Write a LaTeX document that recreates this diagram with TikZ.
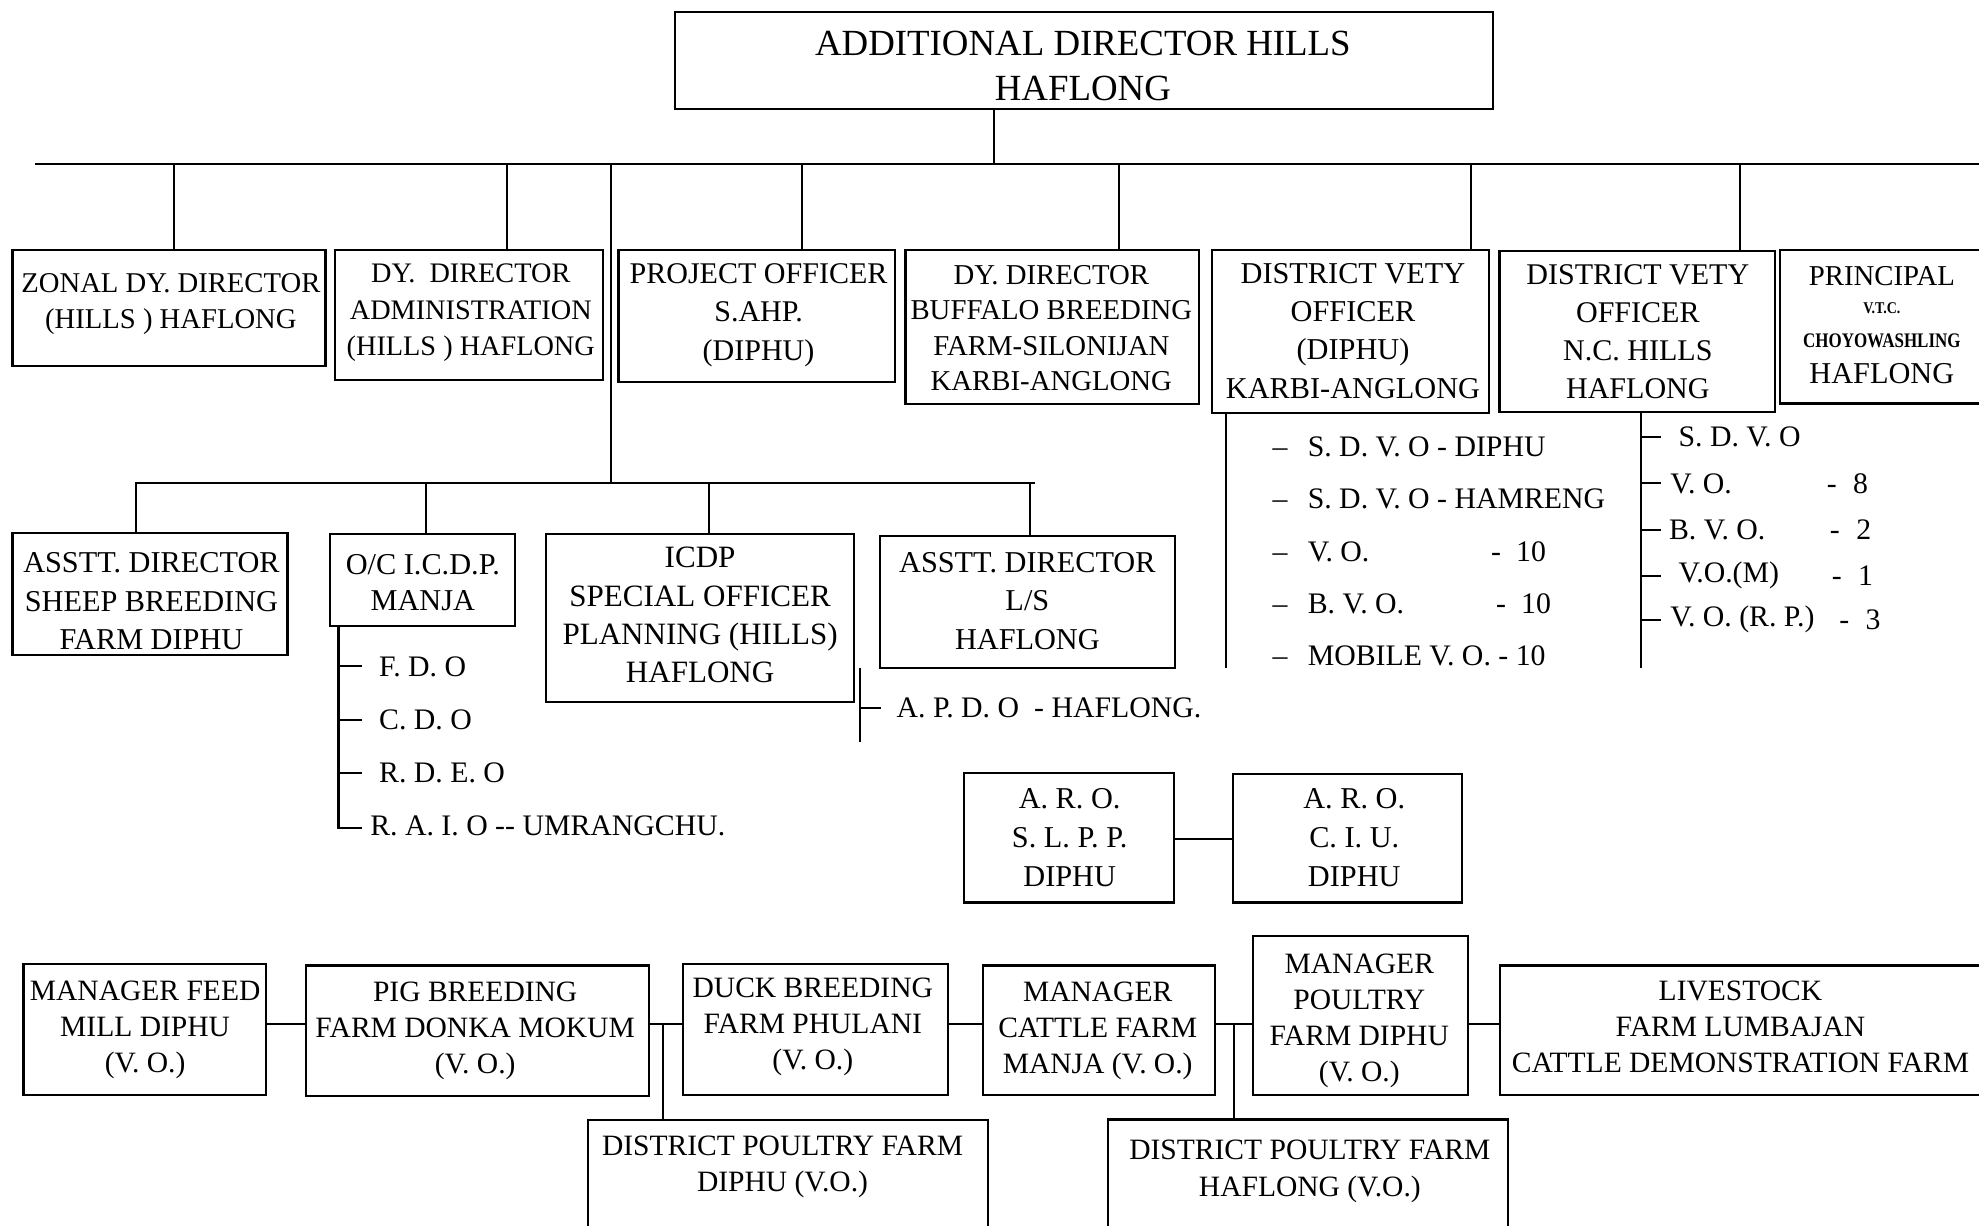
\documentclass[tikz,border=0pt]{standalone}
\usepackage{fontspec}
\setmainfont{Liberation Serif}
\usepackage{graphicx}
\newcommand\fbotrow{\fontsize{11.7}{14.2}\selectfont}
\newcommand\orgbox[9]{%
  \pgfmathsetmacro\obW{(#4-#2)*0.5}%
  \pgfmathsetmacro\obH{(#5-#3)*0.5}%
  \node[obox,minimum width=\obW pt,minimum height=\obH pt] (#1) at ({(#2+#4)/2},{(#3+#5)/2}) {};
  \node[otext,#8] (#1-t) at (#6,#7) {#9};}
\begin{document}
\begin{tikzpicture}[x=0.5pt,y=-0.5pt,
  obox/.style={draw,line width=0.9pt,inner sep=0pt,rectangle},
  otext/.style={inner sep=0pt,align=center},
  ln/.style={line width=0.8pt},
  item/.style={inner sep=0pt,anchor=west,font=\fontsize{11.8}{14}\selectfont}]
\useasboundingbox (0,0) rectangle (1568,971);

% ---------- boxes ----------
\orgbox{top}{535}{9.5}{1183}{86.5}{858}{52.2}{font=\fontsize{14.6}{17.8}\selectfont}{ADDITIONAL DIRECTOR HILLS\\HAFLONG}

\orgbox{zonal}{10}{198}{258}{290}{135.4}{241}{font=\fontsize{11.35}{14}\selectfont}{ZONAL DY. DIRECTOR\\(HILLS ) HAFLONG}
\orgbox{admin}{265.6}{198}{478}{301}{373}{248}{font=\fontsize{11.2}{14.5}\selectfont}{DY.~ DIRECTOR\\ADMINISTRATION\\(HILLS ) HAFLONG}
\orgbox{proj}{490}{198}{709}{302.4}{601}{249.5}{font=\fontsize{11.9}{15.2}\selectfont}{PROJECT OFFICER\\S.AHP.\\(DIPHU)}
\orgbox{buff}{717.5}{198}{950}{320}{833}{260}{font=\fontsize{11.4}{14.1}\selectfont}{DY. DIRECTOR\\BUFFALO BREEDING\\FARM-SILONIJAN\\KARBI-ANGLONG}
\orgbox{dvd}{960}{198}{1180}{327}{1072}{262}{font=\fontsize{12}{15.2}\selectfont}{DISTRICT VETY\\OFFICER\\(DIPHU)\\KARBI-ANGLONG}
\orgbox{nc}{1188}{198.6}{1406.5}{326.7}{1297.7}{263}{font=\fontsize{11.9}{15}\selectfont}{DISTRICT VETY\\OFFICER\\N.C. HILLS\\HAFLONG}
\node[obox,minimum width=80.75pt,minimum height=60.8pt] (prin) at (1491.25,258.8) {};
\node[anchor=base,inner sep=0pt,font=\fontsize{11.4}{12}\selectfont] (pr1) at (1491,226.5) {PRINCIPAL};
\node[anchor=base,inner sep=0pt,font=\bfseries\fontsize{6.5}{7}\selectfont] (pr2) at (1491,248.4) {\scalebox{0.85}[1]{V.T.C.}};
\node[anchor=base,inner sep=0pt,font=\bfseries\fontsize{8.2}{9}\selectfont] (pr3) at (1491,275) {\scalebox{0.82}[1]{CHOYOWASHLING}};
\node[anchor=base,inner sep=0pt,font=\fontsize{12}{12}\selectfont] (pr4) at (1491,303.6) {HAFLONG};

\orgbox{sheep}{10}{422.5}{227.7}{519}{120}{476.3}{font=\fontsize{12}{15.2}\selectfont}{ASSTT. DIRECTOR\\SHEEP BREEDING\\FARM DIPHU}
\orgbox{oc}{261.6}{423}{407.8}{496}{335}{461.5}{font=\fontsize{12}{14.5}\selectfont}{O/C I.C.D.P.\\MANJA}
\orgbox{icdp}{432.6}{423}{676.5}{556}{554.7}{487.5}{font=\fontsize{12.3}{15.2}\selectfont}{ICDP\\SPECIAL OFFICER\\PLANNING (HILLS)\\HAFLONG}
\orgbox{als}{697}{424.7}{931}{529}{814}{476.2}{font=\fontsize{12}{15.2}\selectfont}{ASSTT. DIRECTOR\\L/S\\HAFLONG}

\orgbox{aro1}{764}{612.7}{930}{715}{847.5}{663.5}{font=\fontsize{12}{15.5}\selectfont}{A. R. O.\\S. L. P. P.\\DIPHU}
\orgbox{aro2}{977}{613}{1158.5}{715}{1073}{663.5}{font=\fontsize{12}{15.5}\selectfont}{A. R. O.\\C. I. U.\\DIPHU}

\orgbox{feed}{18.7}{764}{211}{867.7}{115}{816}{font=\fbotrow}{MANAGER FEED\\MILL DIPHU\\(V. O.)}
\orgbox{pig}{242.6}{765}{514}{868.5}{376.5}{816.5}{font=\fbotrow}{PIG BREEDING\\FARM DONKA MOKUM\\(V. O.)}
\orgbox{duck}{541}{764}{751}{867.7}{644}{813.5}{font=\fbotrow}{DUCK BREEDING\\FARM PHULANI\\(V. O.)}
\orgbox{cattle}{779}{765}{962.7}{867.6}{869.7}{816.5}{font=\fbotrow}{MANAGER\\CATTLE FARM\\MANJA (V. O.)}
\orgbox{poul}{993}{741.7}{1163}{867.6}{1077}{809}{font=\fbotrow}{MANAGER\\POULTRY\\FARM DIPHU\\(V. O.)}
\orgbox{live}{1188.6}{765}{1570}{867.6}{1379}{813.5}{font=\fbotrow}{LIVESTOCK\\FARM LUMBAJAN\\CATTLE DEMONSTRATION FARM}
\orgbox{dpfd}{466}{887.5}{783}{990}{620}{924.5}{font=\fontsize{11.7}{14.5}\selectfont}{DISTRICT POULTRY FARM\\DIPHU (V.O.)}
\orgbox{dpfh}{877.6}{887}{1195}{990}{1037.8}{928.3}{font=\fontsize{11.7}{14.5}\selectfont}{DISTRICT POULTRY FARM\\HAFLONG (V.O.)}

% ---------- top level connectors ----------
\coordinate (tj) at (787.7,130);
\coordinate (busL) at (27.8,130);
\coordinate (busR) at (1580,130);
\draw[ln] (busL) -- (busR);
\draw[ln] (top.south -| tj) -- (tj);
\foreach \nm/\xx in {zonal/138, admin/401.8, proj/635.5, buff/886.3, dvd/1165.2, nc/1378.7}{
  \coordinate (d-\nm) at (\xx,130);
  \draw[ln] (d-\nm) -- (d-\nm |- \nm.north);
}

% ---------- second level ----------
\coordinate (b2top) at (484.3,130);
\coordinate (b2) at (484.3,382.5);
\draw[ln] (b2top) -- (b2);
\coordinate (b2L) at (107.8,382.5);
\coordinate (b2R) at (820,382.5);
\draw[ln] (sheep.north -| b2L) -- (b2L) -- (b2R);
\foreach \nm/\xx in {oc/337.5, icdp/561.6, als/816}{
  \coordinate (e-\nm) at (\xx,382.5);
  \draw[ln] (e-\nm) -- (e-\nm |- \nm.north);
}

% ---------- O/C list ----------
\coordinate (ocb) at (268.2,656);
\draw[ln] (oc.south -| ocb) -- (ocb) -- ++(18.5,0);
\foreach \yy in {528,570.5,612.6}{
  \draw[ln] (ocb |- 0,\yy) -- ++(18.5,0);
}
\node[item] (fdo) at (300,528) {F. D. O};
\node[item] (cdo) at (300,570.5) {C. D. O};
\node[item] (rdeo) at (300,612.6) {R. D. E. O};
\node[item] (raio) at (293,654) {R. A. I. O -{}- UMRANGCHU.};

% ---------- APDO ----------
\coordinate (ap1) at (681,529);
\coordinate (ap2) at (681,588);
\draw[ln] (ap1) -- (ap2);
\draw[ln] (ap1 |- 0,561) -- ++(17,0);
\node[item] (apdo) at (710,561) {A. P. D. O\hspace{6pt}- HAFLONG.};

% ---------- DVO Diphu list ----------
\coordinate (dvl) at (971.4,529.5);
\draw[ln] (dvd.south -| dvl) -- (dvl);
\node[item] (dv1) at (1008,354) {–\hspace{8pt}S. D. V. O - DIPHU};
\node[item] (dv2) at (1008,395.5) {–\hspace{8pt}S. D. V. O - HAMRENG};
\node[item] (dv3) at (1008,437) {–\hspace{8pt}V. O.};
\node[item] (dv3n) at (1181,437) {-\hspace{6pt}10};
\node[item] (dv4) at (1008,478.6) {–\hspace{8pt}B. V. O.};
\node[item] (dv4n) at (1185,478.6) {-\hspace{6pt}10};
\node[item] (dv5) at (1008,519.8) {–\hspace{8pt}MOBILE V. O. - 10};

% ---------- DVO NC Hills list ----------
\coordinate (ncl) at (1300,529.5);
\draw[ln] (nc.south -| ncl) -- (ncl);
\foreach \yy in {346,383,420,456,491}{
  \draw[ln] (ncl |- 0,\yy) -- ++(16,0);
}
\node[item] (nc1) at (1329.6,346) {S. D. V. O};
\node[item] (nc2) at (1323,383) {V. O.};
\node[item] (nc2n) at (1447,383) {-\hspace{6.5pt}8};
\node[item] (nc3) at (1322,420) {B. V. O.};
\node[item] (nc3n) at (1449.5,420) {-\hspace{6.5pt}2};
\node[item] (nc4) at (1329.6,456) {V.O.(M)};
\node[item] (nc4n) at (1451,456) {-\hspace{6.5pt}1};
\node[item] (nc5) at (1323,491) {V. O. (R. P.)};
\node[item] (nc5n) at (1457,491) {-\hspace{6.5pt}3};

% ---------- A.R.O. link ----------
\coordinate (arc) at (0,665);
\draw[ln] (aro1.east |- arc) -- (aro2.west |- arc);

% ---------- bottom row ----------
\coordinate (brow) at (0,811.5);
\draw[ln] (feed.east |- brow) -- (pig.west |- brow);
\draw[ln] (pig.east |- brow) -- (duck.west |- brow);
\coordinate (j1) at (525,811.5);
\draw[ln] (j1) -- (j1 |- dpfd.north);
\draw[ln] (duck.east |- brow) -- (cattle.west |- brow);
\draw[ln] (cattle.east |- brow) -- (poul.west |- brow);
\coordinate (j2) at (978,811.5);
\draw[ln] (j2) -- (j2 |- dpfh.north);
\draw[ln] (poul.east |- brow) -- (live.west |- brow);
\end{tikzpicture}
\end{document}
